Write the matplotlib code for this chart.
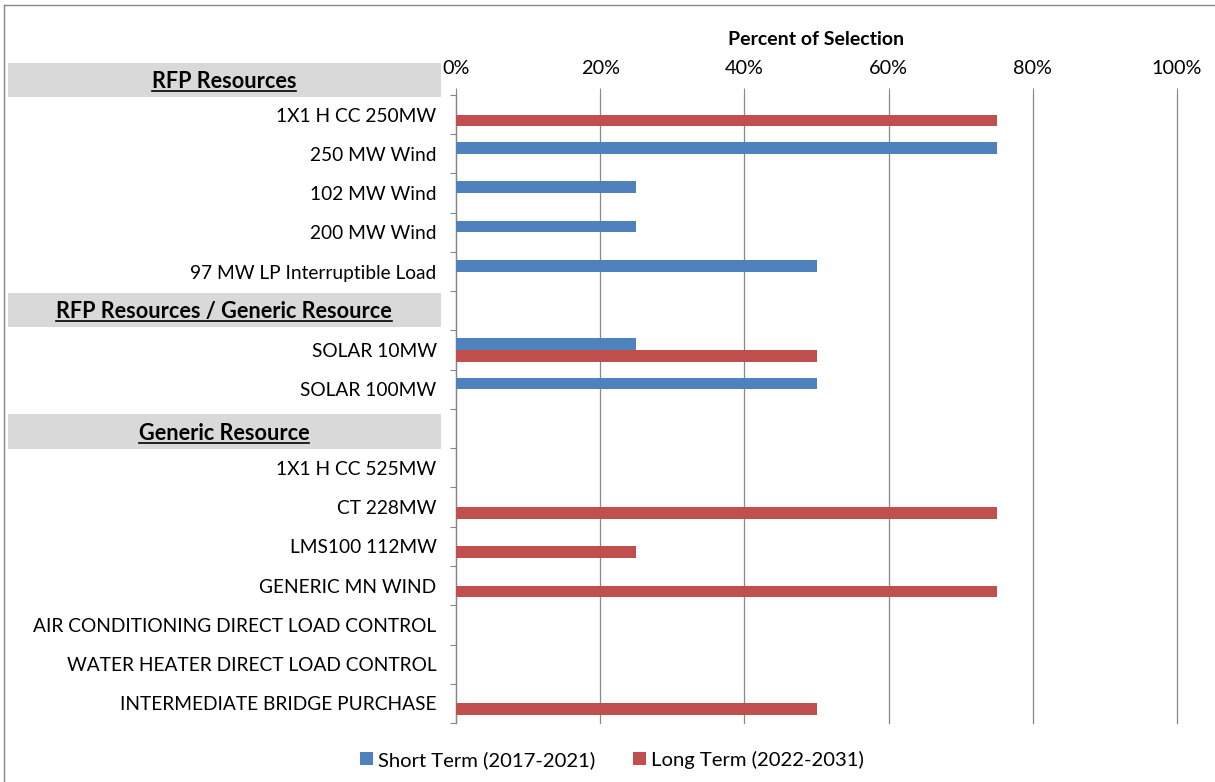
import matplotlib
matplotlib.use("Agg")
import matplotlib.pyplot as plt
from matplotlib.patches import Rectangle, Patch
from matplotlib.lines import Line2D
import numpy as np

# Resource rows (empty strings mark group header rows)
resources = [
    "1X1 H CC 250MW",
    "250 MW Wind",
    "102 MW Wind",
    "200 MW Wind",
    "97 MW LP Interruptible Load",
    "",
    "SOLAR 10MW",
    "SOLAR 100MW",
    "",
    "1X1 H CC 525MW",
    "CT 228MW",
    "LMS100 112MW",
    "GENERIC MN WIND",
    "AIR CONDITIONING DIRECT LOAD CONTROL",
    "WATER HEATER DIRECT LOAD CONTROL",
    "INTERMEDIATE BRIDGE PURCHASE",
]
short_term = [0, 75, 25, 25, 50, 0, 25, 50, 0, 0, 0, 0, 0, 0, 0, 0]
long_term = [75, 0, 0, 0, 0, 0, 50, 0, 0, 0, 75, 25, 75, 0, 0, 50]

group_headers = ["RFP Resources", "RFP Resources / Generic Resource", "Generic Resource"]

series_names = ["Short Term (2017-2021)", "Long Term (2022-2031)"]
x_ticks = [0, 20, 40, 60, 80, 100]
x_tick_labels = ["0%", "20%", "40%", "60%", "80%", "100%"]

BLUE = "#4F81BD"
RED = "#C0504D"
GRID = "#878787"
FONT = "Lato"

W, H = 1215, 782
fig = plt.figure(figsize=(W / 100, H / 100), dpi=100)
fig.patch.set_facecolor("white")

# outer frame (left and top edges visible)
fig.add_artist(Line2D([4 / W, 4 / W], [0, 1 - 5 / H], transform=fig.transFigure,
                      color=GRID, lw=1.0))
fig.add_artist(Line2D([4 / W, 1], [1 - 5 / H, 1 - 5 / H], transform=fig.transFigure,
                      color=GRID, lw=1.0))

ax = fig.add_axes([456 / W, 1 - 723 / H, (1177 - 456) / W, (723 - 95) / H])

n = len(resources)
pos = np.arange(n)
bh = 0.298
ax.barh(pos - bh / 2, short_term, height=bh, color=BLUE, zorder=3)
ax.barh(pos + bh / 2, long_term, height=bh, color=RED, zorder=3)

ax.set_xlim(0, 100)
ax.set_ylim(n - 0.5, -0.5)

ax.xaxis.tick_top()
ax.xaxis.set_label_position("top")
ax.set_xticks(x_ticks)
ax.set_xticklabels(x_tick_labels, fontsize=14.3, fontfamily=FONT)
ax.tick_params(axis="x", length=5, width=0.8, color=GRID, pad=8)
ax.set_xlabel("Percent of Selection", fontsize=14, fontweight="bold",
              fontfamily=FONT, labelpad=10.5)
ax.grid(axis="x", color=GRID, lw=0.9, zorder=0)
for gl in ax.get_xgridlines():
    gl.set_clip_on(False)

ax.set_yticks(pos)
ax.set_yticklabels(resources, fontsize=13.8, fontfamily=FONT)
ax.set_yticks(np.arange(-0.5, n, 1.0), minor=True)
ax.tick_params(axis="y", which="major", length=0, pad=14)
ax.tick_params(axis="y", which="minor", length=4, width=0.8, color=GRID)

for side in ["top", "right", "bottom"]:
    ax.spines[side].set_visible(False)
ax.spines["left"].set_color(GRID)
ax.spines["left"].set_linewidth(0.9)

# group header cells with underlined bold titles
header_boxes = [(63, 97), (293, 327), (414, 449)]
fig.canvas.draw()
renderer = fig.canvas.get_renderer()
for name, (top, bot) in zip(group_headers, header_boxes):
    fig.add_artist(Rectangle((8 / W, 1 - bot / H), (441 - 8) / W, (bot - top) / H,
                             transform=fig.transFigure, facecolor="#D9D9D9",
                             edgecolor="none", zorder=1))
    base = bot - 9
    t = fig.text(224 / W, 1 - base / H, name, ha="center", va="baseline",
                 fontsize=15.6, fontweight="bold", fontfamily=FONT, zorder=2)
    bb = t.get_window_extent(renderer)
    uy = (H - base - 2.5) / H
    fig.add_artist(Line2D([bb.x0 / W, bb.x1 / W], [uy, uy], transform=fig.transFigure,
                          color="black", lw=1.2, zorder=2))

handles = [Patch(facecolor=BLUE), Patch(facecolor=RED)]
fig.legend(handles, series_names, loc="center", bbox_to_anchor=(612 / W, 22 / H),
           ncol=2, frameon=False, prop={"family": FONT, "size": 14.6},
           handlelength=0.6, handleheight=0.6, handletextpad=0.25,
           columnspacing=1.9)

fig.savefig("out.png", dpi=100, facecolor="white")
